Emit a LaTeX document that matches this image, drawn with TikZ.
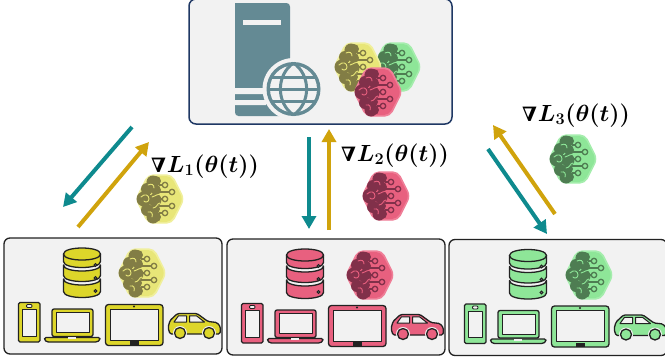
\documentclass[tikz,border=0pt]{standalone}
\usepackage{fontspec}
\usepackage{amsmath}
\usetikzlibrary{arrows.meta}
\newfontfamily\nabf[BoldItalicFont={DejaVu Serif Bold Italic}]{DejaVu Serif}
\definecolor{panel}{HTML}{F2F2F2}
\definecolor{srv}{HTML}{648A94}
\definecolor{navy}{HTML}{1F3864}
\definecolor{teal2}{HTML}{0E8A8E}
\definecolor{gold2}{HTML}{D0A30C}
\definecolor{yF}{HTML}{E8E678}\definecolor{yB}{HTML}{F0EF9C}\definecolor{yD}{HTML}{827D45}
\definecolor{pF}{HTML}{E8607F}\definecolor{pB}{HTML}{EF7F98}\definecolor{pD}{HTML}{81304A}
\definecolor{gF}{HTML}{8EE698}\definecolor{gB}{HTML}{A5EDAD}\definecolor{gD}{HTML}{4E7D52}
\definecolor{yDev}{HTML}{DDD62A}\definecolor{pDev}{HTML}{E8607F}\definecolor{gDev}{HTML}{8EE698}
\definecolor{ink}{HTML}{222222}
\newcommand{\gradlabel}[1]{{\fontsize{21}{22}\selectfont\bfseries\itshape\nabf\char"2207}\kern1pt{\boldmath$L_{#1}(\theta(t))$}}
\tikzset{
  x=1pt,y=-1pt,
  panelbox/.style={draw=ink,line width=1.3pt,fill=panel,rounded corners=6pt,inner sep=0pt,minimum width=218pt,minimum height=116pt},
  topbox/.style={draw=navy,line width=1.5pt,fill=panel,rounded corners=7pt,inner sep=0pt,minimum width=263pt,minimum height=125pt},
  tealarrow/.style={draw=teal2,line width=4pt,-{Triangle[length=13pt,width=14pt]}},
  goldarrow/.style={draw=gold2,line width=4pt,-{Triangle[length=13pt,width=14pt]}},
  gradtext/.style={font=\fontsize{24}{26}\selectfont,inner sep=0pt,text=black,scale=.94},
  devline/.style={draw=ink,line width=1.3pt,line join=round},
  scrline/.style={draw=ink,line width=1pt,line join=round},
  pics/brain/.style n args={3}{code={
    \path[fill=#1,draw=#1,line width=1.2pt,rounded corners=5pt]
      (-12,-24)--(12,-24)--(24,0)--(12,24)--(-12,24)--(-24,0)--cycle;
    \path[fill=#2,rounded corners=5pt]
      (-11,-23)--(11,-23)--(23,0)--(11,23)--(-11,23)--(-23,0)--cycle;
    \fill[#3] (-7,-17) circle (6.5pt) (-13,-10) circle (6pt) (-16,0) circle (7.5pt)
      (-13,11) circle (6pt) (-7,18) circle (6.5pt) (-4,-9) circle (5pt) (-5,1) circle (6.5pt) (-5,10) circle (5pt)
      (-4,-18) circle (5pt) (-4,18) circle (5pt);
    \draw[#2,line width=.9pt,line cap=round]
      (-12,-14) .. controls (-8,-16) and (-6,-14) .. (-6,-11)
      (-19,-2) .. controls (-15,-6) and (-11,-4) .. (-11,0) .. controls (-11,3) and (-15,4) .. (-16,2)
      (0,-5) .. controls (-5,-4) and (-6,-2) .. (-8,-2)
      (0,4) .. controls (-3,4) and (-3,9) .. (-7,9)
      (-12,13) .. controls (-8,12) and (-7,15) .. (-8,18);
    \draw[#3,line width=1.3pt]
      (-1,-14)--(2.3,-14) (-1,-7)--(9.3,-7) (-1,0)--(2.3,0) (-1,7)--(9.3,7) (-1,14)--(2.3,14);
    \draw[#3,line width=1.3pt] (5,-14) circle (2.7pt) (12,-7) circle (2.7pt) (5,0) circle (2.7pt)
      (12,7) circle (2.7pt) (5,14) circle (2.7pt);
  }},
  pics/dbstack/.style={code={
    \draw[devline,fill=#1] (-18.5,279) .. controls (-18.5,287) and (18.5,287) .. (18.5,279) -- (18.5,291.5) .. controls (18.5,299.5) and (-18.5,299.5) .. (-18.5,291.5) -- cycle;
    \draw[devline,fill=#1] (-18.5,265) .. controls (-18.5,273) and (18.5,273) .. (18.5,265) -- (18.5,275.5) .. controls (18.5,283.5) and (-18.5,283.5) .. (-18.5,275.5) -- cycle;
    \draw[devline,fill=#1] (-18.5,254) -- (-18.5,261.5) .. controls (-18.5,269.5) and (18.5,269.5) .. (18.5,261.5) -- (18.5,254) -- cycle;
    \draw[devline,fill=#1] (-18.5,254) .. controls (-18.5,246) and (18.5,246) .. (18.5,254) .. controls (18.5,262) and (-18.5,262) .. (-18.5,254) -- cycle;
    \foreach \yy in {265,278,291}{
      \draw[ink,line width=1pt,fill=panel] (13.5,\yy) circle (1.4pt);
    }
  }},
  pics/devices/.style={code={
    % phone
    \draw[devline,fill=#1,rounded corners=1.5pt] (18.5,302.5) rectangle (40,342);
    \draw[scrline,fill=panel] (22,309.5) rectangle (36.5,336);
    \draw[ink,line width=.8pt,fill=panel,rounded corners=1pt] (26.5,304.5) rectangle (32,307.5);
    % laptop
    \draw[devline,fill=#1,rounded corners=2pt] (52,309) rectangle (93,336.5);
    \draw[scrline,fill=panel] (56,312.5) rectangle (89,332.5);
    \draw[devline,fill=#1,rounded corners=1.5pt] (44.5,337.5) -- (100,337.5) -- (100,340) -- (97,342) -- (47,342) -- (44.5,340) -- cycle;
    \fill[panel] (68,337.2) rectangle (76,339.2);
    % tablet
    \draw[devline,fill=#1,rounded corners=3pt] (105.5,304.5) rectangle (163,345.5);
    \draw[scrline,fill=panel] (110,309) rectangle (158,340);
    \fill[ink] (134,306.5) circle (1.2pt);
    \fill[ink] (129.5,341) rectangle (139,345.5);
    % car
    \draw[devline,fill=#1,rounded corners=1.5pt] (177.5,313.5) -- (197,313.5) -- (208,321.5) -- (217,322.5) -- (220.5,327) -- (220,334) -- (170,334) -- (168,327.5) -- (170,320.5) -- cycle;
    \draw[scrline,fill=panel] (178.5,315.8) -- (186.5,315.8) -- (186.5,322) -- (174,322) -- cycle;
    \draw[scrline,fill=panel] (189.5,315.8) -- (196.5,315.8) -- (204.5,322) -- (189.5,322) -- cycle;
    \fill[panel] (180,333) circle (7pt) (209,333) circle (7pt);
    \draw[devline,fill=#1] (180,333) circle (5.5pt) (209,333) circle (5.5pt);
  }},
}
\begin{document}
\begin{tikzpicture}
\useasboundingbox (0,0) rectangle (665,360);
\clip (0,0) rectangle (665,360);
\node[panelbox] (boxA) at (113,296) {};
\node[panelbox] (boxB) at (336,297) {};
\node[panelbox] (boxC) at (558,297.5) {};
\node[topbox] (server) at (320.5,61.5) {};
% server
\fill[srv,rounded corners=3.5pt] (235,3) -- (290,3) -- (290,116) -- (235,116) [sharp corners] -- cycle;
\fill[panel] (243,20) rectangle (281,25);
\fill[panel] (234,88) rectangle (266,94) (234,100) rectangle (266,105);
\fill[panel] (293.5,89) circle (31pt);
\fill[srv] (293.5,89) circle (27pt);
\fill[panel] (293.5,89) circle (23.5pt);
\begin{scope}[draw=srv,line width=3pt]
\draw (293.5,63) .. controls (276,75) and (276,103) .. (293.5,115);
\draw (293.5,63) .. controls (311,75) and (311,103) .. (293.5,115);
\draw (268,89) -- (319,89);
\draw (272,77) -- (315,77);
\draw (272,101) -- (315,101);
\end{scope}
\pic at (397,67) {brain={gB}{gF}{gD}};
\pic at (358,67) {brain={yB}{yF}{yD}};
\pic at (378,92) {brain={pB}{pF}{pD}};
% client boxes
\pic at (82,0) {dbstack=yDev};
\pic at (305,1) {dbstack=pDev};
\pic at (528,1.5) {dbstack=gDev};
\pic at (142,273) {brain={yB}{yF}{yD}};
\pic at (370,275) {brain={pB}{pF}{pD}};
\pic at (589,275) {brain={gB}{gF}{gD}};
\pic at (0,0) {devices=yDev};
\pic at (223,1) {devices=pDev};
\pic at (446,1.5) {devices=gDev};
% floating gradients
\pic at (160,199) {brain={yB}{yF}{yD}};
\pic at (386,196) {brain={pB}{pF}{pD}};
\pic at (573,159) {brain={gB}{gF}{gD}};
\node[gradtext,anchor=base west] (g1) at (151,172) {\gradlabel{1}};
\node[gradtext,anchor=base west] (g2) at (341,161) {\gradlabel{2}};
\node[gradtext,anchor=base west] (g3) at (522,121) {\gradlabel{3}};
% arrows
\coordinate (t1a) at (132,127); \coordinate (t1b) at (63,207);
\coordinate (y1a) at (78,227); \coordinate (y1b) at (149,142);
\coordinate (t2a) at (309,137); \coordinate (t2b) at (309,229);
\coordinate (y2a) at (329,230); \coordinate (y2b) at (329,129);
\coordinate (y3a) at (555,214); \coordinate (y3b) at (493,125);
\coordinate (t3a) at (488,149); \coordinate (t3b) at (547,234);
\draw[tealarrow] (t1a) -- (t1b);
\draw[goldarrow] (y1a) -- (y1b);
\draw[tealarrow] (t2a) -- (t2b);
\draw[goldarrow] (y2a) -- (y2b);
\draw[goldarrow] (y3a) -- (y3b);
\draw[tealarrow] (t3a) -- (t3b);
\end{tikzpicture}
\end{document}
